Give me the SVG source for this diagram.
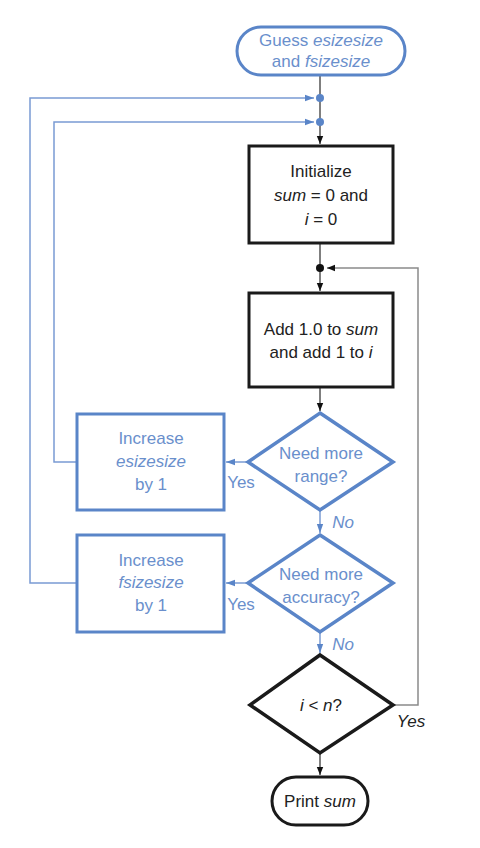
<svg xmlns="http://www.w3.org/2000/svg" width="480" height="848" viewBox="0 0 480 848">
<style>
.t{font-family:"Liberation Sans",Arial,sans-serif;font-size:17px;text-anchor:middle}
.bk{fill:#222}
.bl{fill:#6a8fcc}
.i{font-style:italic}
.bbox{fill:#fff;stroke:#1a1a1a;stroke-width:3}
.ubox{fill:#fff;stroke:#5a85c8;stroke-width:3}
.dm{stroke-width:3.5}
.cg{fill:none;stroke:#555;stroke-width:1.5}
.cl{fill:none;stroke:#7a9bd3;stroke-width:1.5}
.cr{fill:none;stroke:#8a8a8a;stroke-width:1.5}
</style>
<defs>
<marker id="ak" viewBox="0 0 10 10" refX="10" refY="5" markerWidth="8" markerHeight="8" markerUnits="userSpaceOnUse" orient="auto"><path d="M0,1 L10,5 L0,9 z" fill="#111"/></marker>
<marker id="ab" viewBox="0 0 10 10" refX="10" refY="5" markerWidth="9" markerHeight="9" markerUnits="userSpaceOnUse" orient="auto"><path d="M0,1.5 L10,5 L0,8.5 z" fill="#5a85c8"/></marker>
</defs>
<rect width="480" height="848" fill="#fff"/>
<g id="connectors">
<path class="cg" d="M320,75 V144" marker-end="url(#ak)"/>
<path class="cg" d="M320,243 V291" marker-end="url(#ak)"/>
<path class="cg" d="M320,387 V411" marker-end="url(#ak)"/>
<path class="cl" d="M320,510 V533" marker-end="url(#ab)"/>
<path class="cl" d="M320,632 V653" marker-end="url(#ab)"/>
<path class="cg" d="M320,753 V775" marker-end="url(#ak)"/>
<path class="cr" d="M393,705 H418 V268 H327" marker-end="url(#ak)"/>
<path class="cl" d="M248,462 H226" marker-end="url(#ab)"/>
<path class="cl" d="M248,583 H226" marker-end="url(#ab)"/>
<path class="cl" d="M77,462 H54 V122 H314" marker-end="url(#ab)"/>
<path class="cl" d="M77,583 H30 V98 H314" marker-end="url(#ab)"/>
<circle cx="320" cy="98" r="4" fill="#5a85c8"/>
<circle cx="320" cy="122" r="4" fill="#5a85c8"/>
<circle cx="320" cy="268" r="4" fill="#111"/>
<text class="t bl i" x="343" y="528">No</text>
<text class="t bl i" x="343" y="650">No</text>
<text class="t bl" x="241" y="488">Yes</text>
<text class="t bl" x="241" y="610">Yes</text>
<text class="t bk i" x="411" y="727">Yes</text>
</g>
<g id="start">
<rect class="ubox" x="237" y="27" width="168" height="48" rx="24"/>
<text class="t bl" x="321" y="46">Guess <tspan class="i">esizesize</tspan></text>
<text class="t bl" x="321" y="67">and <tspan class="i">fsizesize</tspan></text>
</g>
<g id="init">
<rect class="bbox" x="249" y="146" width="144" height="97"/>
<text class="t bk" x="321" y="177">Initialize</text>
<text class="t bk" x="321" y="201"><tspan class="i">sum</tspan> = 0 and</text>
<text class="t bk" x="321" y="225"><tspan class="i">i</tspan> = 0</text>
</g>
<g id="add">
<rect class="bbox" x="249" y="293" width="144" height="94"/>
<text class="t bk" x="321" y="335">Add 1.0 to <tspan class="i">sum</tspan></text>
<text class="t bk" x="321" y="358">and add 1 to <tspan class="i">i</tspan></text>
</g>
<g id="range">
<polygon class="ubox dm" points="320,413 393,462 320,510 248,462"/>
<text class="t bl" x="321" y="459">Need more</text>
<text class="t bl" x="321" y="482">range?</text>
</g>
<g id="incE">
<rect class="ubox" x="77" y="414" width="147" height="96"/>
<text class="t bl" x="151" y="444">Increase</text>
<text class="t bl i" x="151" y="467">esizesize</text>
<text class="t bl" x="151" y="490">by 1</text>
</g>
<g id="accuracy">
<polygon class="ubox dm" points="320,535 393,583 320,632 248,583"/>
<text class="t bl" x="321" y="580">Need more</text>
<text class="t bl" x="321" y="603">accuracy?</text>
</g>
<g id="incF">
<rect class="ubox" x="77" y="535" width="147" height="97"/>
<text class="t bl" x="151" y="566">Increase</text>
<text class="t bl i" x="151" y="588">fsizesize</text>
<text class="t bl" x="151" y="611">by 1</text>
</g>
<g id="loop">
<polygon class="bbox dm" points="320,655 393,705 320,753 250,705"/>
<text class="t bk" x="321" y="711"><tspan class="i">i</tspan> &lt; <tspan class="i">n</tspan>?</text>
</g>
<g id="print">
<rect class="bbox" x="272" y="777" width="96" height="48" rx="24" stroke-width="2.5"/>
<text class="t bk" x="320" y="807">Print <tspan class="i">sum</tspan></text>
</g>
</svg>
